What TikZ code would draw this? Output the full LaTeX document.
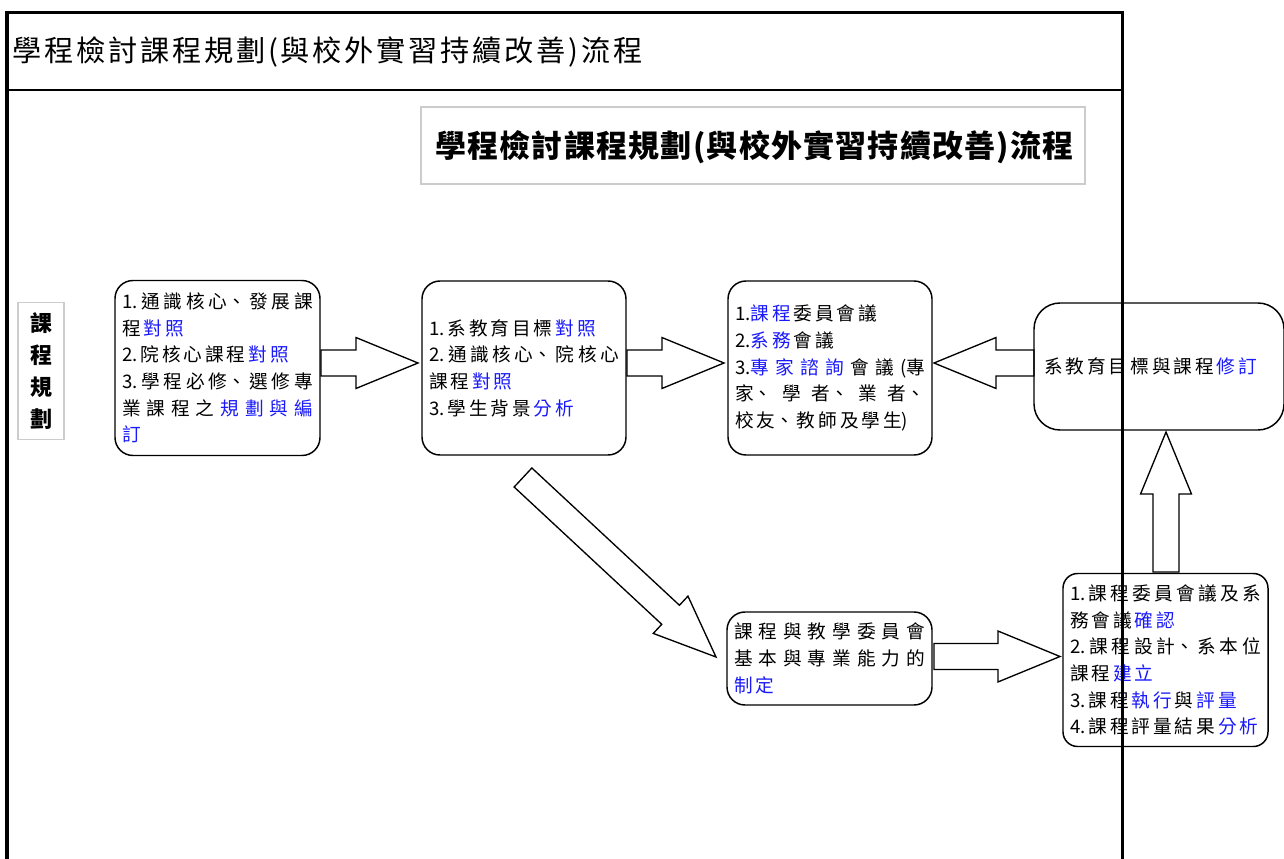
\documentclass[tikz,border=0pt]{standalone}
\usepackage{fontspec}
\setmainfont{Noto Sans CJK TC}
\newfontfamily\bodyf{Noto Sans CJK TC}
\newfontfamily\headf[LetterSpace=9.5]{Noto Sans CJK TC}
\newfontfamily\titf[LetterSpace=4]{Noto Sans CJK TC}
\usetikzlibrary{calc}
\definecolor{hl}{RGB}{25,25,250}
\newcommand\gp{\hskip 2.2pt plus 8pt minus 1.2pt\relax}
\newcommand\B[1]{\textcolor{hl}{#1}}
\newcommand\bodysetup{\bodyf\fontsize{14pt}{20pt}\selectfont\parindent=0pt\tolerance=10000
  \XeTeXlinebreaklocale "zh"\XeTeXlinebreakskip=2.2pt plus 8pt minus 1.2pt\relax}
\newcommand\blockarrow[2]{%
  \coordinate (hb) at ($(#2)!46.5pt!(#1)$);
  \draw[barrow] ($(#1)!9.75pt!90:(#2)$) -- ($(hb)!9.75pt!90:(#2)$)
    -- ($(hb)!19.1pt!90:(#2)$) -- (#2) -- ($(hb)!19.1pt!-90:(#2)$)
    -- ($(hb)!9.75pt!-90:(#2)$) -- ($(#1)!9.75pt!-90:(#2)$) -- cycle;}
\tikzset{
  box/.style={draw, line width=1.1pt, rounded corners=13.5pt, align=justify,
    inner xsep=5.25pt, inner ysep=2pt, minimum width=153.75pt, text width=143.25pt,
    font=\bodysetup},
  graybox/.style={draw=black!20, line width=0.9pt, inner sep=0pt},
  barrow/.style={draw, line width=1pt, fill=white, line join=miter},
  frameline/.style={line width=2.8pt},
}
\begin{document}
\begin{tikzpicture}[x=0.75pt,y=-0.75pt]
\useasboundingbox (0,0) rectangle (1284,859);
% header
\node[anchor=west, inner sep=0pt, font={\headf\fontsize{21.9pt}{22pt}\selectfont}] (hdr) at (12,52) {學程檢討課程規劃(與校外實習持續改善)流程};
% title box
\node[graybox, minimum width=498pt, minimum height=57.75pt] (ttl) at (753,145.5) {};
\node[inner sep=0pt, font={\titf\bfseries\fontsize{23.25pt}{24pt}\selectfont}] (ttltext) at (754.5,147) {學程檢討課程規劃(與校外實習持續改善)流程};
% left label
\node[graybox, minimum width=34.5pt, minimum height=102.75pt, align=center,
  font={\bfseries\fontsize{16.5pt}{23.8pt}\selectfont}] (lbl) at (41,371) {課\\程\\規\\劃};

% arrows first (boxes drawn over them)
\coordinate (a1s) at (321,363);
\coordinate (a1e) at (418,363);
\coordinate (a2s) at (627,363);
\coordinate (a2e) at (724,363);
\coordinate (a3s) at (1034,363);
\coordinate (a3e) at (934,363);
\coordinate (a4s) at (523,477.5);
\coordinate (a4e) at (716,657);
\coordinate (a5s) at (934,656.5);
\coordinate (a5e) at (1060,656.5);
\coordinate (a6s) at (1166,572);
\coordinate (a6e) at (1166,432);
\blockarrow{a1s}{a1e}
\blockarrow{a2s}{a2e}
\blockarrow{a3s}{a3e}
\blockarrow{a4s}{a4e}
\blockarrow{a5s}{a5e}
\blockarrow{a6s}{a6e}

% boxes
\node[box, minimum height=131.25pt] (b1) at (217.5,368) {1.通識核心、發展課\linebreak 程\gp\B{對照}\par 2.院核心課程\gp\B{對照}\par 3.學程必修、選修專\linebreak 業課程之\gp\B{規劃與編}\linebreak \B{訂}};
\node[box, minimum width=153pt, text width=142.5pt, minimum height=130.5pt] (b2) at (524,368) {1.系教育目標\gp\B{對照}\par 2.通識核心、院核心\linebreak 課程\gp\B{對照}\par 3.學生背景\gp\B{分析}};
\node[box, minimum width=153pt, text width=142.5pt, minimum height=130.5pt] (b3) at (830,368) {1.\B{課程}\gp 委員會議\par 2.\B{系務}\gp 會議\par 3.\B{專家諮詢}\gp 會議(專\linebreak 家、學者、業者、\linebreak 校友、教師及學生)};
\node[box, rounded corners=19.5pt, align=left, inner xsep=7.5pt, minimum width=187.5pt, text width=172.5pt, minimum height=95.25pt] (b4) at (1159,366.5) {系教育目標與課程\gp\B{修訂}};
\node[box, minimum height=69.75pt] (b5) at (829.5,658.5) {課程與教學委員會\linebreak 基本與專業能力的\linebreak \B{制定}};
\node[box, rounded corners=11pt, minimum height=129.75pt] (b6) at (1165.5,660) {1.課程委員會議及系\linebreak 務會議\gp\B{確認}\par 2.課程設計、系本位\linebreak 課程\gp\B{建立}\par 3.課程\gp\B{執行}\gp 與\gp\B{評量}\par 4.課程評量結果\gp\B{分析}};

% outer frame
\draw[frameline] (7,870) -- (7,12.5) -- (1122.5,12.5) -- (1122.5,870);
\draw[line width=1.6pt] (7,90) -- (1122.5,90);
\end{tikzpicture}
\end{document}
